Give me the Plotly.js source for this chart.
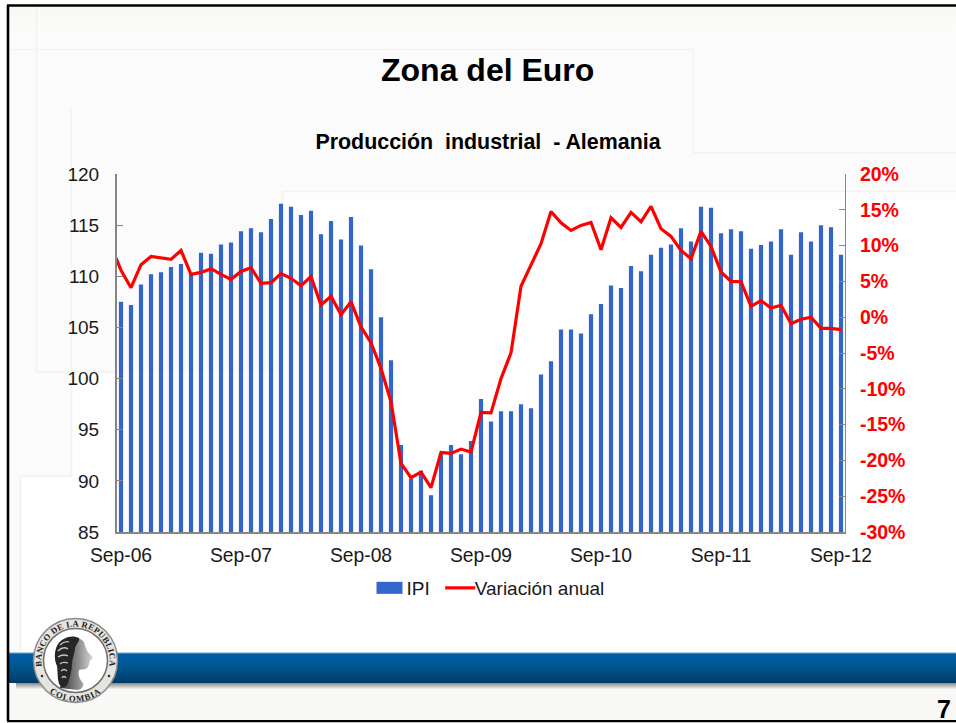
<!DOCTYPE html>
<html lang="es">
<head>
<meta charset="utf-8">
<script src="https://cdn.plot.ly/plotly-3.0.1.min.js"></script>
<style>
html,body{margin:0;padding:0;background:#fff;width:956px;height:723px;overflow:hidden}
#bg{position:absolute;left:0;top:0}
#chart{position:absolute;left:0;top:0;width:956px;height:723px}
</style>
</head>
<body>
<svg id="bg" width="956" height="723" viewBox="0 0 956 723" xmlns="http://www.w3.org/2000/svg">
  <defs>
    <linearGradient id="band" x1="0" y1="0" x2="0" y2="1">
      <stop offset="0" stop-color="#0060a6"/><stop offset="0.45" stop-color="#00558f"/><stop offset="1" stop-color="#003c66"/>
    </linearGradient>
    <linearGradient id="shade" x1="0" y1="0" x2="0" y2="1">
      <stop offset="0" stop-color="#777"/><stop offset="1" stop-color="#f2f2f0"/>
    </linearGradient>
    <linearGradient id="topb" x1="0" y1="0" x2="0" y2="1">
      <stop offset="0" stop-color="#f8f8f3"/><stop offset="1" stop-color="#fbfbfb"/>
    </linearGradient>
    <linearGradient id="face" x1="0" y1="0" x2="1" y2="0">
      <stop offset="0" stop-color="#333"/><stop offset="0.55" stop-color="#8a8a8a"/><stop offset="1" stop-color="#d6d6d6"/>
    </linearGradient>
    <path id="arcTop" d="M 43.5 672.1 A 34 34 0 1 1 107.5 672.1"/>
    <path id="arcBot" d="M 46.5 689.5 A 41 41 0 0 0 104.5 689.5"/>
  </defs>
  <rect x="8" y="5" width="948" height="716" fill="#fbfbfb"/>
  <rect x="8" y="5" width="948" height="26" fill="url(#topb)"/>
  <path d="M283 191H956V653H20V476H71V372H283Z" fill="#fefefe"/>
  <g fill="none" stroke="#f2f2f2" stroke-width="1.5">
    <path d="M8 49.5H693.5V153H956"/>
    <path d="M36.5 5V372H116"/>
    <path d="M71.5 108V476H20.5V653"/>
    <path d="M283 200V191.5H956"/>
  </g>
  <rect x="8" y="683" width="948" height="38" fill="#f8f8f6"/>
  <rect x="16" y="682" width="940" height="7" fill="url(#shade)"/>
  <rect x="9" y="653" width="947" height="30" fill="url(#band)"/>
  <rect x="9" y="652.5" width="947" height="1" fill="#6fa3bf"/>
  <g>
    <circle cx="75.5" cy="660.5" r="42" fill="#e6e4de" stroke="#8a8a8a" stroke-width="1.5"/>
    <circle cx="75.5" cy="660.5" r="32" fill="#fff" stroke="#6e6e6e" stroke-width="1.5"/>
    <text font-family="Liberation Serif" font-weight="700" font-size="8.6" fill="#1c1c1c" letter-spacing="0.3">
      <textPath href="#arcTop" startOffset="50%" text-anchor="middle">BANCO DE LA REPUBLICA</textPath>
    </text>
    <text font-family="Liberation Serif" font-weight="700" font-size="8.6" fill="#1c1c1c" letter-spacing="1">
      <textPath href="#arcBot" startOffset="50%" text-anchor="middle">COLOMBIA</textPath>
    </text>
    <circle cx="42" cy="676" r="1.3" fill="#333"/><circle cx="109" cy="676" r="1.3" fill="#333"/>
    <path d="M66 640C72 636 80 637 84 642C85 646 86 649 88 652C90 655 93 656 92.5 658C92 660 89.5 660 89.5 662C90 664 88 666 87.5 668C85 670 81 669 79 670C78 674 79 679 83 683C84 686 82 689 78 690L60 688Z" fill="url(#face)"/>
    <path d="M58 644C62 638 72 634 79 638C80 641 76 644 75 648C75 653 72 658 72 664C72 670 70 676 68 683C66 688 62 688 59 684C57 678 58 672 57 666C54 660 54 650 58 644Z" fill="#262626"/>
    <path d="M60 645C63 642 66 641 69 642M58 651C61 648 65 647 68 649M58 657C61 655 64 654 68 656M60 664C62 662 65 662 68 663M61 671C63 669 65 669 67 671M62 678C63 676 65 676 66 678" stroke="#c8c8c8" stroke-width="1.3" fill="none"/>
  </g>
  <g fill="none" stroke="#000">
    <path d="M8 5V721" stroke-width="2.6"/>
    <path d="M7 5.5H956" stroke-width="2.4"/>
    <path d="M7 721.2H956" stroke-width="2.2"/>
  </g>
</svg>
<div id="chart"></div>
<script>
var monthIndex = [0,1,2,3,4,5,6,7,8,9,10,11,12,13,14,15,16,17,18,19,20,21,22,23,24,25,26,27,28,29,30,31,32,33,34,35,36,37,38,39,40,41,42,43,44,45,46,47,48,49,50,51,52,53,54,55,56,57,58,59,60,61,62,63,64,65,66,67,68,69,70,71,72];
var ipi = [107.5,107.2,109.2,110.2,110.4,110.9,111.2,110.2,112.3,112.2,113.1,113.3,
           114.4,114.7,114.3,115.6,117.1,116.8,116.0,116.4,114.1,115.4,113.6,115.8,
           113.0,110.7,106.0,101.8,93.5,90.2,91.0,88.6,92.7,93.5,92.6,93.9,
           98.0,95.8,96.8,96.8,97.5,97.1,100.4,101.7,104.8,104.8,104.4,106.3,
           107.3,109.1,108.85,111.0,110.5,112.1,112.8,113.1,114.7,113.4,116.8,116.7,
           114.2,114.6,114.4,112.7,113.05,113.4,114.6,112.1,114.3,113.4,115.0,114.8,112.1];
var lineIndex = [-0.5].concat(monthIndex);
var variacion = [8.3,6.54,4.12,7.33,8.49,8.26,8.07,9.33,5.98,6.26,6.77,5.98,5.29,
                 6.40,6.91,4.73,4.82,6.08,5.43,4.40,5.66,1.71,2.91,0.36,2.17,
                 -1.36,-3.55,-7.17,-11.82,-20.42,-22.42,-21.63,-23.81,-18.89,-19.03,-18.42,-18.84,
                 -13.31,-13.36,-8.57,-4.99,4.31,7.24,10.26,14.77,13.19,12.12,12.82,13.24,
                 9.42,13.89,12.54,14.63,13.33,15.47,12.35,11.28,9.33,8.17,11.98,9.89,
                 6.31,5.01,4.96,1.52,2.31,1.29,1.66,-0.9,-0.29,-0.01,-1.55,-1.55,-1.73];
var xTickVals = [0,12,24,36,48,60,72];
var xTickText = ['Sep-06','Sep-07','Sep-08','Sep-09','Sep-10','Sep-11','Sep-12'];
var leftTicks = [85,90,95,100,105,110,115,120];
var rightTicks = [-30,-25,-20,-15,-10,-5,0,5,10,15,20];
var rightText = ['-30%','-25%','-20%','-15%','-10%','-5%','0%','5%','10%','15%','20%'];
var seriesNames = ['IPI','Variación anual'];

var FONT = 'Liberation Sans, Arial, sans-serif';
var AXIS = '#868686';
var L = 117, W = 728, B = 532, H = 358;

var traces = [
  {type:'bar', x:monthIndex, y:ipi, name:seriesNames[0], marker:{color:'#3366CC', line:{width:0}}, yaxis:'y', xaxis:'x', hoverinfo:'y'},
  {type:'scatter', mode:'lines', x:lineIndex, y:variacion, name:seriesNames[1], line:{color:'#FF0000', width:3.2, shape:'linear'}, yaxis:'y2', xaxis:'x', hoverinfo:'y'}
];
var layout = {
  width:956, height:723,
  paper_bgcolor:'rgba(0,0,0,0)', plot_bgcolor:'rgba(0,0,0,0)',
  margin:{l:L, r:956-L-W, t:723-191-H, b:191, pad:0, autoexpand:false},
  font:{family:FONT, size:19, color:'#1a1a1a'},
  bargap:0.58,
  title:{text:'Producción\u00a0\u00a0industrial\u00a0\u00a0- Alemania', font:{family:FONT, size:21.4, color:'#000', weight:700},
         xref:'container', yref:'container', x:488/956, y:1-142/723, xanchor:'center', yanchor:'middle'},
  xaxis:{range:[-0.4,72.4], tickmode:'array', tickvals:xTickVals, ticktext:xTickText, ticks:'', showgrid:false, zeroline:false,
         showline:true, linecolor:AXIS, linewidth:1.5, tickfont:{family:FONT,size:19.3,color:'#1a1a1a'}, ticklabelstandoff:5, tickangle:0},
  yaxis:{range:[85,120], tickmode:'array', tickvals:leftTicks, ticks:'inside', ticklen:6, tickwidth:1, tickcolor:AXIS, showgrid:false, zeroline:false,
         showline:true, linecolor:AXIS, linewidth:2, tickfont:{family:FONT,size:19,color:'#1a1a1a'}, ticklabelstandoff:12},
  yaxis2:{range:[-30,20], overlaying:'y', side:'right', tickmode:'array', tickvals:rightTicks, ticktext:rightText, ticks:'inside', ticklen:6, tickwidth:1, tickcolor:AXIS,
          showgrid:false, zeroline:false, showline:true, linecolor:AXIS, linewidth:1, tickfont:{family:FONT,size:19.5,color:'#FF0000',weight:700}, ticklabelstandoff:10},
  showlegend:true,
  legend:{orientation:'h', xref:'paper', yref:'paper', x:(372-L)/W, y:(B-569)/H, xanchor:'left', yanchor:'top', bgcolor:'rgba(0,0,0,0)', borderwidth:0,
          font:{family:FONT,size:19,color:'#1a1a1a'}, itemwidth:30, traceorder:'normal', tracegroupgap:0},
  annotations:[
    {text:'Zona del Euro', xref:'paper', yref:'paper', x:(487-L)/W, y:(B-70)/H, xanchor:'center', yanchor:'middle', showarrow:false, font:{family:FONT,size:32,color:'#000',weight:700}},
    {text:'7', xref:'paper', yref:'paper', x:(944-L)/W, y:(B-709)/H, xanchor:'center', yanchor:'middle', showarrow:false, font:{family:FONT,size:25,color:'#000',weight:700}}
  ]
};
Plotly.newPlot('chart', traces, layout, {displayModeBar:false, responsive:false}).then(function(gd){
  gd.querySelectorAll('.legend .legendpoints path').forEach(function(p){ p.setAttribute('d','M10.5,6H-15.5V-6H10.5Z'); });
  gd.querySelectorAll('.legend .legendtext').forEach(function(t){
    t.setAttribute('x', String(parseFloat(t.getAttribute('x')) - 5.5));
  });
});
</script>
</body>
</html>
